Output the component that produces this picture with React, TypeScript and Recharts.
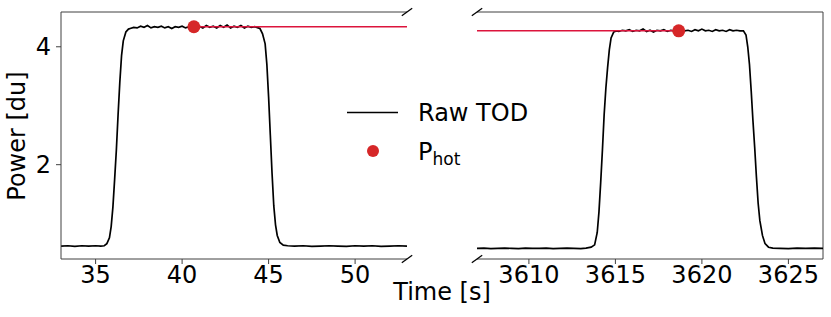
// App.tsx
// Raw TOD with P_hot markers, broken time axis (two panels) using Recharts
import {
    ComposedChart, Line, Scatter, XAxis, YAxis, ReferenceLine
} from "recharts";

const FONT = "DejaVu Sans";

// left segment of the time-ordered data
const leftTime = [
    33.0, 33.4, 33.8, 34.2, 34.6, 35.0, 35.3, 35.5, 35.65, 35.8, 35.9, 36.0, 36.1, 36.2, 36.3, 36.4, 36.5, 36.6, 36.75, 36.9,
    37.0, 37.2, 37.4, 37.6, 37.8, 38.0, 38.2, 38.4, 38.6, 38.8, 39.0, 39.2, 39.4, 39.6, 39.8, 40.0, 40.2, 40.4, 40.6,
    40.8, 41.0, 41.2, 41.4, 41.6, 41.8, 42.0, 42.2, 42.4, 42.6, 42.8, 43.0, 43.2, 43.4, 43.6, 43.8, 44.0, 44.2, 44.4,
    44.5, 44.65, 44.8, 44.9, 45.0, 45.1, 45.2, 45.3, 45.4, 45.5, 45.65, 45.85, 46.1,
    46.5, 47.0, 47.5, 48.0, 48.5, 49.0, 49.5, 50.0, 50.5, 51.0, 51.5, 52.0, 52.5, 53.0,
];
const leftPower = [
    0.62, 0.625, 0.615, 0.625, 0.62, 0.625, 0.62, 0.625, 0.66, 0.76, 0.95, 1.28, 1.75, 2.25, 2.85, 3.4, 3.85, 4.1, 4.25, 4.3,
    4.31, 4.33, 4.32, 4.35, 4.33, 4.36, 4.32, 4.34, 4.33, 4.35, 4.32, 4.34, 4.31, 4.34, 4.33, 4.35, 4.32, 4.34, 4.36,
    4.33, 4.35, 4.32, 4.36, 4.33, 4.35, 4.32, 4.36, 4.33, 4.37, 4.32, 4.35, 4.33, 4.36, 4.32, 4.35, 4.33, 4.34, 4.32,
    4.31, 4.22, 4.05, 3.7, 3.15, 2.5, 1.85, 1.3, 0.98, 0.8, 0.68, 0.635, 0.625,
    0.62, 0.625, 0.615, 0.62, 0.625, 0.62, 0.615, 0.625, 0.62, 0.625, 0.615, 0.62, 0.625, 0.62,
];

// right segment
const rightTime = [
    3607.0, 3607.4, 3607.8, 3608.2, 3608.6, 3609.0, 3609.4, 3609.8, 3610.2, 3610.6, 3611.0, 3611.4, 3611.8, 3612.2, 3612.6,
    3613.0, 3613.3, 3613.6, 3613.8, 3613.95, 3614.05, 3614.15, 3614.25, 3614.35, 3614.45, 3614.55, 3614.65, 3614.75, 3614.9, 3615.05,
    3615.2, 3615.4, 3615.6, 3615.8, 3616.0, 3616.2, 3616.4, 3616.6, 3616.8, 3617.0, 3617.2, 3617.4, 3617.6, 3617.8, 3618.0,
    3618.2, 3618.4, 3618.6, 3618.8, 3619.0, 3619.2, 3619.4, 3619.6, 3619.8, 3620.0, 3620.2, 3620.4, 3620.6, 3620.8, 3621.0,
    3621.2, 3621.4, 3621.6, 3621.8, 3622.0, 3622.2,
    3622.4, 3622.55, 3622.65, 3622.75, 3622.85, 3622.95, 3623.05, 3623.15, 3623.25, 3623.35, 3623.5, 3623.65, 3623.85, 3624.1,
    3624.5, 3625.0, 3625.5, 3626.0, 3626.5, 3627.0,
];
const rightPower = [
    0.58, 0.585, 0.575, 0.58, 0.585, 0.58, 0.575, 0.585, 0.58, 0.58, 0.585, 0.575, 0.58, 0.585, 0.58,
    0.575, 0.585, 0.6, 0.64, 0.85, 1.2, 1.7, 2.25, 2.85, 3.3, 3.65, 3.95, 4.15, 4.25, 4.27,
    4.26, 4.28, 4.27, 4.29, 4.26, 4.28, 4.27, 4.30, 4.26, 4.28, 4.25, 4.28, 4.27, 4.29, 4.26,
    4.28, 4.27, 4.26, 4.29, 4.27, 4.28, 4.26, 4.29, 4.27, 4.30, 4.27, 4.28, 4.26, 4.29, 4.27,
    4.28, 4.26, 4.29, 4.27, 4.28, 4.27,
    4.27, 4.2, 4.0, 3.7, 3.25, 2.75, 2.3, 1.8, 1.35, 1.05, 0.8, 0.66, 0.6, 0.585,
    0.58, 0.575, 0.585, 0.58, 0.585, 0.58,
];

// P_hot samples (one per calibration pulse)
const photTime = [40.68, 3618.66];
const photPower = [4.34, 4.27];

const leftTicks = [35, 40, 45, 50];
const rightTicks = [3610, 3615, 3620, 3625];
const yTicks = [2, 4];

const leftDomain: [number, number] = [33, 53];
const rightDomain: [number, number] = [3607, 3627];
const yDomain: [number, number] = [0.4, 4.59];

const SPINE = "#404040";
const FS = 24;
const tickStyle = { fill: "#000", fontSize: FS, fontFamily: FONT };

const toRows = (t: number[], v: number[]) => t.map((x, i) => ({ t: x, v: v[i] }));

const leftRows = toRows(leftTime, leftPower);
const rightRows = toRows(rightTime, rightPower);
const photRows = toRows(photTime, photPower);

const Dot = (p: any) => <circle cx={p.cx} cy={p.cy} r={6.5} fill="#d62728" />;

function Panel({ rows, domain, ticks, side }: any) {
    const isLeft = side === "left";
    const dots = photRows.filter(r => r.t >= domain[0] && r.t <= domain[1]);
    return (
        <ComposedChart
            width={isLeft ? 410 : 357}
            height={317}
            margin={isLeft ? { top: 12, right: 3, bottom: 0, left: 0 } : { top: 12, right: 8, bottom: 0, left: 3 }}
        >
            <XAxis
                type="number"
                dataKey="t"
                domain={domain}
                allowDataOverflow
                ticks={ticks}
                height={58}
                tickSize={5}
                tickMargin={2}
                stroke={SPINE}
                tick={tickStyle}
            />
            <YAxis
                type="number"
                domain={yDomain}
                allowDataOverflow
                ticks={yTicks}
                width={61}
                hide={!isLeft}
                tickSize={5}
                tickMargin={5}
                stroke={SPINE}
                tick={tickStyle}
            />
            <ReferenceLine y={yDomain[1]} stroke={SPINE} strokeWidth={1} />
            {!isLeft && <ReferenceLine x={domain[1]} stroke={SPINE} strokeWidth={1} />}
            <Line
                data={rows}
                dataKey="v"
                type="linear"
                stroke="#000"
                strokeWidth={1.7}
                dot={false}
                isAnimationActive={false}
            />
            <Line
                data={photRows}
                dataKey="v"
                type="linear"
                stroke="#dc143c"
                strokeWidth={1.5}
                dot={false}
                isAnimationActive={false}
            />
            <Scatter data={dots} dataKey="v" shape={Dot} isAnimationActive={false} />
        </ComposedChart>
    );
}

// diagonal break marks at the inner corners of the two panels
const breakCorners = [
    [407, 12], [407, 259], [477, 12], [477, 259],
];

export default function App() {
    return (
        <div style={{ position: "absolute", left: 0, top: 0, width: 831, height: 317, background: "#fff", fontFamily: FONT }}>
            <div style={{ position: "absolute", left: 0, top: 0 }}>
                <Panel rows={leftRows} domain={leftDomain} ticks={leftTicks} side="left" />
            </div>
            <div style={{ position: "absolute", left: 474, top: 0 }}>
                <Panel rows={rightRows} domain={rightDomain} ticks={rightTicks} side="right" />
            </div>
            <svg width={831} height={317} style={{ position: "absolute", left: 0, top: 0, pointerEvents: "none" }}>
                {breakCorners.map(([x, y], i) => (
                    <line key={i} x1={x - 5.2} y1={y + 3.7} x2={x + 5.2} y2={y - 3.7} stroke="#000" strokeWidth={1.3} />
                ))}
                <text x={17} y={136} fontSize={FS} fontFamily={FONT} textAnchor="middle" dominantBaseline="central"
                    transform="rotate(-90 17 136)">Power [du]</text>
                <text x={442} y={300} fontSize={FS} fontFamily={FONT} textAnchor="middle">Time [s]</text>
                {/* legend */}
                <line x1={347} y1={112.5} x2={398} y2={112.5} stroke="#000" strokeWidth={1.7} />
                <text x={418} y={121} fontSize={FS} fontFamily={FONT}>Raw TOD</text>
                <circle cx={373} cy={151} r={6} fill="#d62728" />
                <text x={418} y={160} fontSize={FS} fontFamily={FONT}>
                    P<tspan fontSize={17} dy={5}>hot</tspan>
                </text>
            </svg>
        </div>
    );
}
